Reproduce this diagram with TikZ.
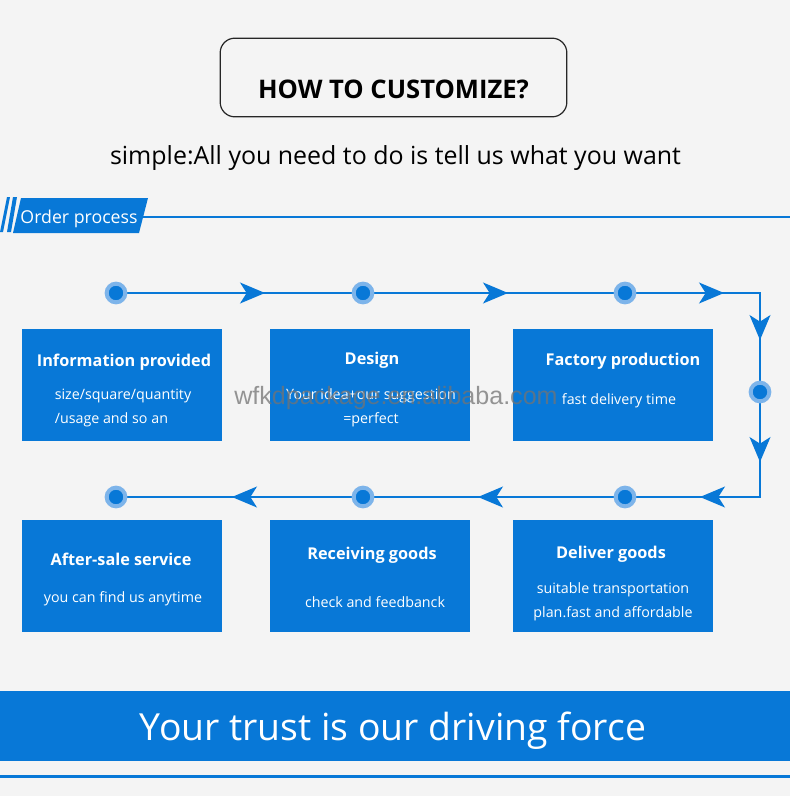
\documentclass[tikz,border=0pt]{standalone}
\usepackage{fontspec}
\setmainfont{Open Sans}
\newfontfamily\wmfont{Liberation Sans}
\usetikzlibrary{arrows.meta,decorations.markings}
\definecolor{bg}{HTML}{F4F4F4}
\definecolor{mainblue}{HTML}{0878D7}
\definecolor{ringblue}{HTML}{7DB4EA}
\tikzset{
  flowtip/.tip={Stealth[length=18.75pt,width=15.75pt,inset=5pt]},
  flowline/.style={draw=mainblue,line width=0.9pt},
  tipat/.style={decoration={markings,mark=at position #1 with {\arrow{flowtip}}},postaction={decorate}},
  tipsat/.style 2 args={decoration={markings,mark=at position #1 with {\arrow{flowtip}},mark=at position #2 with {\arrow{flowtip}}},postaction={decorate}},
  dot/.style={circle,fill=mainblue,draw=ringblue,line width=3pt,minimum size=14pt,inner sep=0pt},
  stepbox/.style={fill=mainblue,minimum width=150pt,minimum height=84pt,inner sep=0pt},
  boxtitle/.style={text=white,font=\bfseries\fontsize{12.2pt}{15pt}\selectfont},
  boxbody/.style={text=white,font=\fontsize{10.7pt}{18pt}\selectfont,align=center},
}
\begin{document}
\begin{tikzpicture}[x=0.75pt,y=-0.75pt]
\fill[bg] (0,0) rectangle (790,796);
\useasboundingbox (0,0) rectangle (790,796);
% header
\node[draw=black!85,line width=0.9pt,rounded corners=11pt,minimum width=260pt,minimum height=59pt,fill=bg] (hdr) at (393.5,77.5) {};
\node[font=\bfseries\fontsize{19.2pt}{22pt}\selectfont] (hdrtext) at (393.5,89) {HOW TO CUSTOMIZE?};
\node[font=\fontsize{18.7pt}{22pt}\selectfont] (sub) at (395.5,158) {simple:All you need to do is tell us what you want};
% order process tab
\fill[mainblue] (7,197) -- (10,197) -- (3,232) -- (0,232) -- cycle;
\fill[mainblue] (13,197) -- (17,197) -- (11,232) -- (7,232) -- cycle;
\fill[mainblue] (21,198) -- (148,198) -- (139,233) -- (13,233) -- cycle;
\node[text=white,font=\fontsize{13.3pt}{16pt}\selectfont] (optext) at (79,219) {Order process};
\coordinate (rulestart) at (143,217);
\coordinate (ruleend) at (790,217);
\draw[mainblue,line width=0.9pt] (rulestart) -- (ruleend);
% flow coordinates
\coordinate (p1) at (116,293);
\coordinate (p2) at (363,293);
\coordinate (p3) at (625,293);
\coordinate (c1) at (760,293);
\coordinate (p4) at (760,392);
\coordinate (c2) at (760,497);
\coordinate (p5) at (625,497);
\coordinate (p6) at (363,497);
\coordinate (p7) at (116,497);
\path[flowline,tipat=111.75pt] (p1) -- (p2);
\path[flowline,tipat=108.75pt] (p2) -- (p3);
\path[flowline,tipsat={74.25pt}{136.5pt}] (p3) -- (c1) -- (p4);
\path[flowline,tipsat={52.5pt}{123.75pt}] (p4) -- (c2) -- (p5);
\path[flowline,tipat=110.25pt] (p5) -- (p6);
\path[flowline,tipat=98.25pt] (p6) -- (p7);
\foreach \i in {1,...,7} {\node[dot] (d\i) at (p\i) {};}
% boxes
\node[stepbox] (b1) at (122,385) {};
\node[stepbox] (b2) at (370,385) {};
\node[stepbox] (b3) at (613,385) {};
\node[stepbox] (b4) at (613,576) {};
\node[stepbox] (b5) at (370,576) {};
\node[stepbox] (b6) at (122,576) {};
\node[boxtitle] (t1) at (124,362) {Information provided};
\node[boxbody,align=left] (s1) at (123,408) {size/square/quantity\\/usage and so an};
\node[boxtitle] (t2) at (372,360) {Design};
\node[boxbody] (s2) at (371,408) {Your idea+our suggestion\\=perfect};
\node[boxtitle] (t3) at (623,361) {Factory production};
\node[boxbody] (s3) at (619,401) {fast delivery time};
\node[boxtitle] (t4) at (611,554) {Deliver goods};
\node[boxbody] (s4) at (613,602) {suitable transportation\\plan.fast and affordable};
\node[boxtitle] (t5) at (372,555) {Receiving goods};
\node[boxbody] (s5) at (375,602) {check and feedbanck};
\node[boxtitle] (t6) at (121,559) {After-sale service};
\node[boxbody] (s6) at (123,599) {you can find us anytime};
% watermark
\node[text=black!55,opacity=0.75,font=\wmfont\fontsize{18.8pt}{22pt}\selectfont] (wm) at (396,398) {wfkdpackage.en.alibaba.com};
% bottom banner
\fill[mainblue] (0,691) rectangle (790,761);
\node[text=white,font=\fontsize{28pt}{32pt}\selectfont] (slogan) at (393,731) {Your trust is our driving force};
\fill[mainblue] (0,774.5) rectangle (790,777.5);
\end{tikzpicture}
\end{document}
